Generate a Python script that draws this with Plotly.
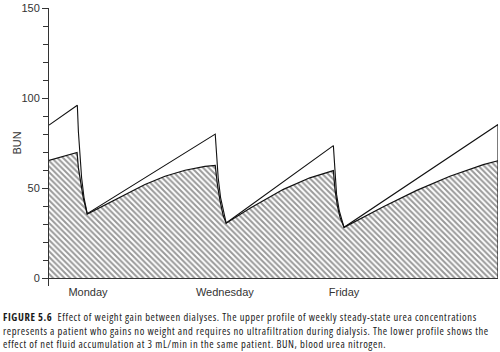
import plotly.graph_objects as go

# Time in hours from start of week (Monday 00:00) ; BUN values (mg/dL)
upper_hours = [0, 10.6, 11.0, 11.6, 12.2, 13.1, 14.3,
               62.2, 62.7, 63.3, 64.2, 65.5, 66.3,
               106.4, 107.0, 107.6, 108.6, 110.4,
               168, 168]
upper_bun = [85, 96, 81.3, 66.6, 55.7, 44.7, 35.8,
             80, 68.5, 55.7, 44.7, 34.6, 30.6,
             73.6, 57.5, 46.5, 37.4, 28.2,
             85.3, 0]

lower_hours = [0, 5.3, 10.5, 11.0, 11.9, 12.8, 14.3,
               20.9, 28.4, 35.9, 43.4, 50.9, 58.4, 62.2,
               63.0, 64.0, 65.2, 66.3,
               75.2, 87.7, 97.6, 106.4,
               107.0, 107.9, 108.9, 110.4,
               125.1, 137.6, 150.0, 162.5, 168]
lower_bun = [65.4, 67.8, 69.8, 61.2, 52, 44.7, 35.6,
             40.5, 46.5, 52.0, 56.6, 59.9, 62.1, 62.6,
             52, 42.9, 34.6, 30.5,
             38.8, 49.3, 55.7, 59.7,
             49.3, 40.1, 33.7, 28.2,
             39.6, 48.7, 56.6, 63.0, 65.2]

day_labels = ["Monday", "Wednesday", "Friday"]
day_hours = [14.6, 65.8, 110.4]

y_ticks = [0, 50, 100, 150]

caption_lines = [
    "<b>FIGURE 5.6</b>  Effect of weight gain between dialyses. The upper profile of weekly steady-state urea concentrations",
    "represents a patient who gains no weight and requires no ultrafiltration during dialysis. The lower profile shows the",
    "effect of net fluid accumulation at 3 mL/min in the same patient. BUN, blood urea nitrogen.",
]

ink = "#333333"
fig = go.Figure()
fig.add_trace(go.Scatter(
    x=lower_hours, y=lower_bun, mode="lines",
    line=dict(color="#111", width=1.2),
    fill="tozeroy", fillcolor="white",
    fillpattern=dict(shape="\\", size=4, solidity=0.5, fgcolor="#333", bgcolor="white"),
    hoverinfo="skip", showlegend=False))
fig.add_trace(go.Scatter(
    x=upper_hours, y=upper_bun, mode="lines",
    line=dict(color="#111", width=1.1),
    hoverinfo="skip", showlegend=False))

fig.update_xaxes(range=[0, 168], showline=False, showgrid=False, zeroline=False,
                 tickmode="array", tickvals=day_hours, ticktext=day_labels,
                 ticks="", ticklabelstandoff=-2,
                 tickfont=dict(family="Liberation Sans, Arial, sans-serif", size=11, color=ink))
fig.update_yaxes(range=[-4.4, 150.05], showline=True, linecolor=ink, linewidth=1,
                 showgrid=False, zeroline=True, zerolinecolor=ink, zerolinewidth=1,
                 tickmode="array", tickvals=y_ticks, ticks="outside", ticklen=6,
                 tickcolor=ink, tickwidth=1, ticklabeloverflow="allow",
                 minor=dict(ticks="outside", dtick=10, tick0=0, ticklen=5, tickcolor=ink, tickwidth=1),
                 tickfont=dict(family="Liberation Sans, Arial, sans-serif", size=11, color=ink))

fig.add_annotation(text="BUN", textangle=-90, xref="paper", yref="paper",
                   x=(9 - 49) / 449, y=(286 - 142) / 281, showarrow=False,
                   font=dict(family="Liberation Sans, Arial, sans-serif", size=11, color=ink))

span = '<span style="font-stretch:75%;letter-spacing:0.6px">'
caption = "<br>".join(span + line + "</span>" for line in caption_lines)
fig.add_annotation(text=caption, xref="paper", yref="paper",
                   x=(1 - 49) / 449, y=(286 - 308.5) / 281, xanchor="left", yanchor="top",
                   align="left", showarrow=False,
                   font=dict(family="Open Sans, sans-serif", size=10.5, color="#1a1a1a"))

fig.update_layout(width=500, height=352, margin=dict(l=49, r=2, t=5, b=66),
                  paper_bgcolor="white", plot_bgcolor="white")
fig.write_html("out.html")
